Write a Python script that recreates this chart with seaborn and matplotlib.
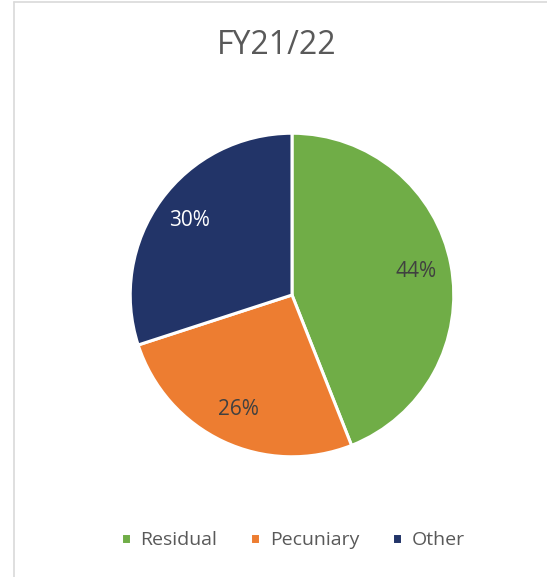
import matplotlib
matplotlib.use("Agg")
import matplotlib.pyplot as plt
import seaborn as sns
from matplotlib.lines import Line2D

# data
categories = ["Residual", "Pecuniary", "Other"]
shares = [44, 26, 30]
colors = ["#70AD47", "#ED7D31", "#223468"]
label_colors = ["#404040", "#404040", "white"]
title = "FY21/22"

sns.set_theme(style="white")
plt.rcParams['font.family'] = ['Open Sans', 'DejaVu Sans']

W, H = 547, 577
fig = plt.figure(figsize=(W / 100, H / 100), dpi=100)
fig.patch.set_facecolor("white")

# chart frame (only top and left edges visible)
fig.add_artist(Line2D([14 / W, 14 / W], [0, 1 - 2 / H], color="#d9d9d9", lw=1.2))
fig.add_artist(Line2D([14 / W, 1], [1 - 2 / H, 1 - 2 / H], color="#d9d9d9", lw=1.2))

cx, cy, r = 292, 295, 165
ax = fig.add_axes([(cx - r) / W, (H - cy - r) / H, 2 * r / W, 2 * r / H])
pal = sns.color_palette(colors)
wedges, texts, autotexts = ax.pie(
    shares, colors=pal, startangle=90, counterclock=False,
    autopct="%d%%", pctdistance=0.78,
    wedgeprops=dict(edgecolor="white", linewidth=2.2),
    textprops=dict(fontsize=15),
)
for t, c in zip(autotexts, label_colors):
    t.set_color(c)
ax.set_xlim(-1.02, 1.02)
ax.set_ylim(-1.02, 1.02)
ax.set_aspect("equal")

fig.text(277 / W, 1 - 46 / H, title, ha="center", va="center",
         fontsize=23, color="#595959")

leg = fig.legend(wedges, categories, loc="center", bbox_to_anchor=(293 / W, 1 - 540 / H),
                 ncol=3, frameon=False, fontsize=14, handlelength=0.5, handleheight=0.5,
                 handletextpad=0.5, columnspacing=1.7)
for t in leg.get_texts():
    t.set_color("#595959")

fig.savefig("out.png", dpi=100, facecolor="white")
